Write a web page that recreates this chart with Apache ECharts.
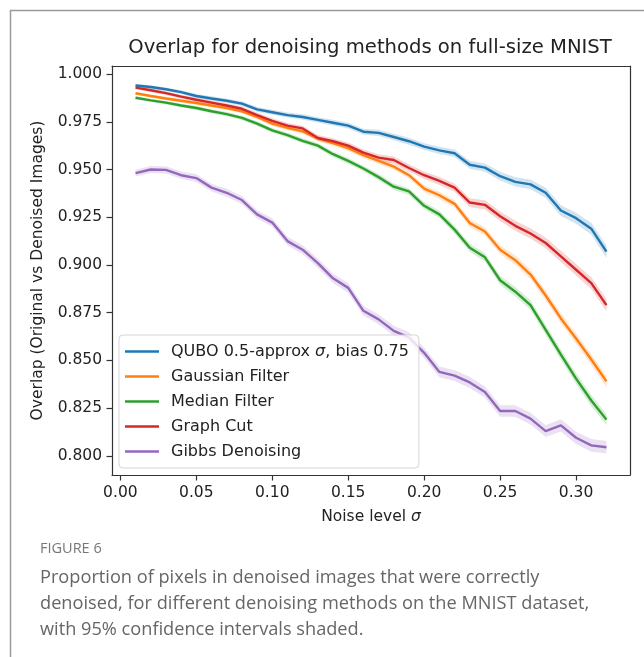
<!DOCTYPE html>
<html><head><meta charset="utf-8">
<script src="https://cdn.jsdelivr.net/npm/echarts@6/dist/echarts.min.js"></script>
<style>html,body{margin:0;padding:0;background:#fff}#c{width:644px;height:657px}</style>
</head><body><div id="c"></div>
<script>
const noise = [0.01,0.02,0.03,0.04,0.05,0.06,0.07,0.08,0.09,0.10,0.11,0.12,0.13,0.14,0.15,0.16,
               0.17,0.18,0.19,0.20,0.21,0.22,0.23,0.24,0.25,0.26,0.27,0.28,0.29,0.30,0.31,0.32];
const xTicks = [0.00,0.05,0.10,0.15,0.20,0.25,0.30];
const yTicks = [0.800,0.825,0.850,0.875,0.900,0.925,0.950,0.975,1.000];
const names = ['QUBO 0.5-approx σ, bias 0.75','Gaussian Filter','Median Filter','Graph Cut','Gibbs Denoising'];
const qubo = [0.9940,0.9932,0.9920,0.9905,0.9885,0.9872,0.9860,0.9845,0.9815,0.9800,0.9785,0.9775,0.9760,0.9745,0.9730,0.9698,
              0.9692,0.9670,0.9648,0.9620,0.9600,0.9585,0.9525,0.9510,0.9465,0.9435,0.9422,0.9378,0.9285,0.9245,0.9190,0.9070];
const gaussian = [0.9899,0.9885,0.9872,0.9860,0.9848,0.9835,0.9822,0.9805,0.9775,0.9740,0.9718,0.9700,0.9662,0.9638,0.9612,0.9575,
              0.9545,0.9515,0.9470,0.9400,0.9365,0.9320,0.9220,0.9175,0.9080,0.9025,0.8950,0.8840,0.8720,0.8615,0.8505,0.8390];
const median = [0.9876,0.9862,0.9850,0.9835,0.9822,0.9805,0.9790,0.9770,0.9740,0.9705,0.9680,0.9650,0.9625,0.9580,0.9545,0.9505,
              0.9460,0.9410,0.9385,0.9310,0.9265,0.9185,0.9090,0.9040,0.8920,0.8860,0.8790,0.8660,0.8530,0.8405,0.8290,0.8190];
const graphCut = [0.9929,0.9915,0.9900,0.9882,0.9865,0.9850,0.9835,0.9818,0.9785,0.9755,0.9730,0.9715,0.9665,0.9648,0.9625,0.9588,
              0.9562,0.9550,0.9508,0.9470,0.9440,0.9405,0.9327,0.9315,0.9255,0.9205,0.9165,0.9115,0.9045,0.8975,0.8905,0.8790];
const gibbs = [0.9481,0.9500,0.9498,0.9470,0.9455,0.9405,0.9378,0.9340,0.9265,0.9222,0.9125,0.9080,0.9010,0.8930,0.8880,0.8760,
              0.8715,0.8655,0.8620,0.8540,0.8440,0.8420,0.8385,0.8335,0.8235,0.8235,0.8195,0.8130,0.8160,0.8095,0.8055,0.8045];
// 95% CI half-widths
const ciQubo = [0.0009,0.0009,0.0009,0.0010,0.0010,0.0011,0.0011,0.0012,0.0012,0.0013,0.0013,0.0014,0.0014,0.0015,0.0015,0.0016,
              0.0016,0.0017,0.0018,0.0018,0.0019,0.0020,0.0021,0.0022,0.0023,0.0024,0.0025,0.0026,0.0028,0.0029,0.0031,0.0033];
const ciGaussian = [0.0008,0.0008,0.0009,0.0009,0.0010,0.0010,0.0011,0.0011,0.0012,0.0012,0.0013,0.0013,0.0014,0.0014,0.0015,0.0015,
              0.0016,0.0017,0.0017,0.0018,0.0019,0.0020,0.0021,0.0022,0.0023,0.0024,0.0025,0.0026,0.0027,0.0028,0.0029,0.0030];
const ciMedian = [0.0008,0.0008,0.0009,0.0009,0.0010,0.0010,0.0011,0.0011,0.0012,0.0012,0.0013,0.0013,0.0014,0.0014,0.0015,0.0015,
              0.0016,0.0017,0.0017,0.0018,0.0019,0.0020,0.0021,0.0022,0.0023,0.0024,0.0025,0.0026,0.0027,0.0028,0.0029,0.0030];
const ciGraphCut = [0.0009,0.0009,0.0010,0.0010,0.0011,0.0011,0.0012,0.0012,0.0013,0.0013,0.0014,0.0014,0.0015,0.0016,0.0016,0.0017,
              0.0018,0.0018,0.0019,0.0020,0.0021,0.0022,0.0023,0.0024,0.0025,0.0026,0.0027,0.0028,0.0029,0.0030,0.0031,0.0032];
const ciGibbs = [0.0018,0.0018,0.0019,0.0019,0.0020,0.0020,0.0021,0.0021,0.0022,0.0022,0.0023,0.0023,0.0024,0.0024,0.0025,0.0025,
              0.0026,0.0026,0.0027,0.0027,0.0028,0.0028,0.0029,0.0029,0.0030,0.0030,0.0031,0.0031,0.0032,0.0032,0.0033,0.0033];
const colors = ['#1f77b4','#ff7f0e','#2ca02c','#d62728','#9467bd'];

const allVals = [qubo, gaussian, median, graphCut, gibbs];
const allCi = [ciQubo, ciGaussian, ciMedian, ciGraphCut, ciGibbs];

const FONT = 'DejaVu Sans';
const series = [];
allVals.forEach((vals, k) => {
  const ci = allCi[k];
  const rows = noise.map((x, i) => [x, vals[i] - ci[i], vals[i] + ci[i]]);
  series.push({
    name: 'band' + k, type: 'custom', silent: true, z: 1, clip: true,
    encode: { x: 0, y: [1, 2] },
    data: rows,
    renderItem: (params, api) => {
      if (params.dataIndex !== 0) return null;
      const pts = [];
      rows.forEach(r => pts.push(api.coord([r[0], r[2]])));
      for (let i = rows.length - 1; i >= 0; i--) pts.push(api.coord([rows[i][0], rows[i][1]]));
      return { type: 'polygon', shape: { points: pts }, style: { fill: colors[k], opacity: 0.2 } };
    }
  });
});
allVals.forEach((vals, k) => {
  series.push({
    name: names[k], type: 'line', symbol: 'none', z: 3,
    lineStyle: { color: colors[k], width: 2.4 }, itemStyle: { color: colors[k] },
    data: noise.map((x, i) => [x, vals[i]])
  });
});

const chart = echarts.init(document.getElementById('c'), null, { renderer: 'canvas' });
const axisLineStyle = { color: '#333', width: 1.2 };
chart.setOption({
  animation: false,
  backgroundColor: '#fff',
  grid: { left: 112, top: 66, width: 518, height: 409, containLabel: false },
  xAxis: [{
    type: 'value', min: -0.0055, max: 0.3355,
    axisLine: { show: true, lineStyle: axisLineStyle },
    axisTick: { show: true, customValues: xTicks, length: 5.5, lineStyle: axisLineStyle },
    axisLabel: { customValues: xTicks, formatter: v => v.toFixed(2), fontSize: 15.5, margin: 10, color: '#222', fontFamily: FONT },
    splitLine: { show: false },
    name: 'Noise level {i|σ}', nameLocation: 'middle', nameGap: 34,
    nameTextStyle: { fontSize: 15.5, color: '#222', fontFamily: FONT,
      rich: { i: { fontStyle: 'italic', fontSize: 15.5, color: '#222', fontFamily: FONT } } }
  }, {
    type: 'value', position: 'top', min: -0.0055, max: 0.3355,
    axisLine: { show: true, onZero: false, lineStyle: axisLineStyle },
    axisTick: { show: false }, axisLabel: { show: false }, splitLine: { show: false }
  }],
  yAxis: [{
    type: 'value', min: 0.790, max: 1.0042,
    axisLine: { show: true, onZero: false, lineStyle: axisLineStyle },
    axisTick: { show: true, customValues: yTicks, length: 5.5, lineStyle: axisLineStyle },
    axisLabel: { customValues: yTicks, formatter: v => v.toFixed(3), fontSize: 15.5, margin: 10, color: '#222', fontFamily: FONT },
    splitLine: { show: false },
    name: 'Overlap (Original vs Denoised Images)', nameLocation: 'middle', nameGap: 66, nameRotate: 90,
    nameTextStyle: { fontSize: 15.5, color: '#222', fontFamily: FONT }
  }, {
    type: 'value', position: 'right', min: 0.790, max: 1.0042,
    axisLine: { show: true, onZero: false, lineStyle: axisLineStyle },
    axisTick: { show: false }, axisLabel: { show: false }, splitLine: { show: false }
  }],
  legend: {
    data: names, orient: 'vertical', left: 119, top: 335,
    padding: [8, 10, 8, 6], itemGap: 8, itemWidth: 34, itemHeight: 2.5, icon: 'rect',
    backgroundColor: 'rgba(255,255,255,0.8)', borderColor: '#d5d5d5', borderWidth: 1, borderRadius: 4,
    formatter: n => n.replace('σ', '{i|σ}'),
    textStyle: { fontSize: 16, color: '#222', fontFamily: FONT, lineHeight: 17, padding: [0, 0, 0, 7],
      rich: { i: { fontStyle: 'italic', fontSize: 16, color: '#222', fontFamily: FONT } } }
  },
  graphic: [
    { type: 'rect', left: 8, top: 8, shape: { width: 700, height: 700 }, style: { fill: 'none', stroke: '#9a9a9a', lineWidth: 1.5 }, silent: true },
    { type: 'text', x: 370, y: 48, style: { text: 'Overlap for denoising methods on full-size MNIST', font: '19.6px "DejaVu Sans"', fill: '#222', textAlign: 'center', textVerticalAlign: 'middle' } },
    { type: 'text', x: 40, y: 549, style: { text: 'FIGURE 6', font: '14.5px "Open Sans"', fill: '#777', textVerticalAlign: 'middle' } },
    { type: 'text', x: 40, y: 578, style: { text: 'Proportion of pixels in denoised images that were correctly', font: '18.2px "Open Sans"', fill: '#666', textVerticalAlign: 'middle' } },
    { type: 'text', x: 40, y: 604, style: { text: 'denoised, for different denoising methods on the MNIST dataset,', font: '18.2px "Open Sans"', fill: '#666', textVerticalAlign: 'middle' } },
    { type: 'text', x: 40, y: 630, style: { text: 'with 95% confidence intervals shaded.', font: '18.2px "Open Sans"', fill: '#666', textVerticalAlign: 'middle' } }
  ],
  series: series
});
</script>
</body></html>
